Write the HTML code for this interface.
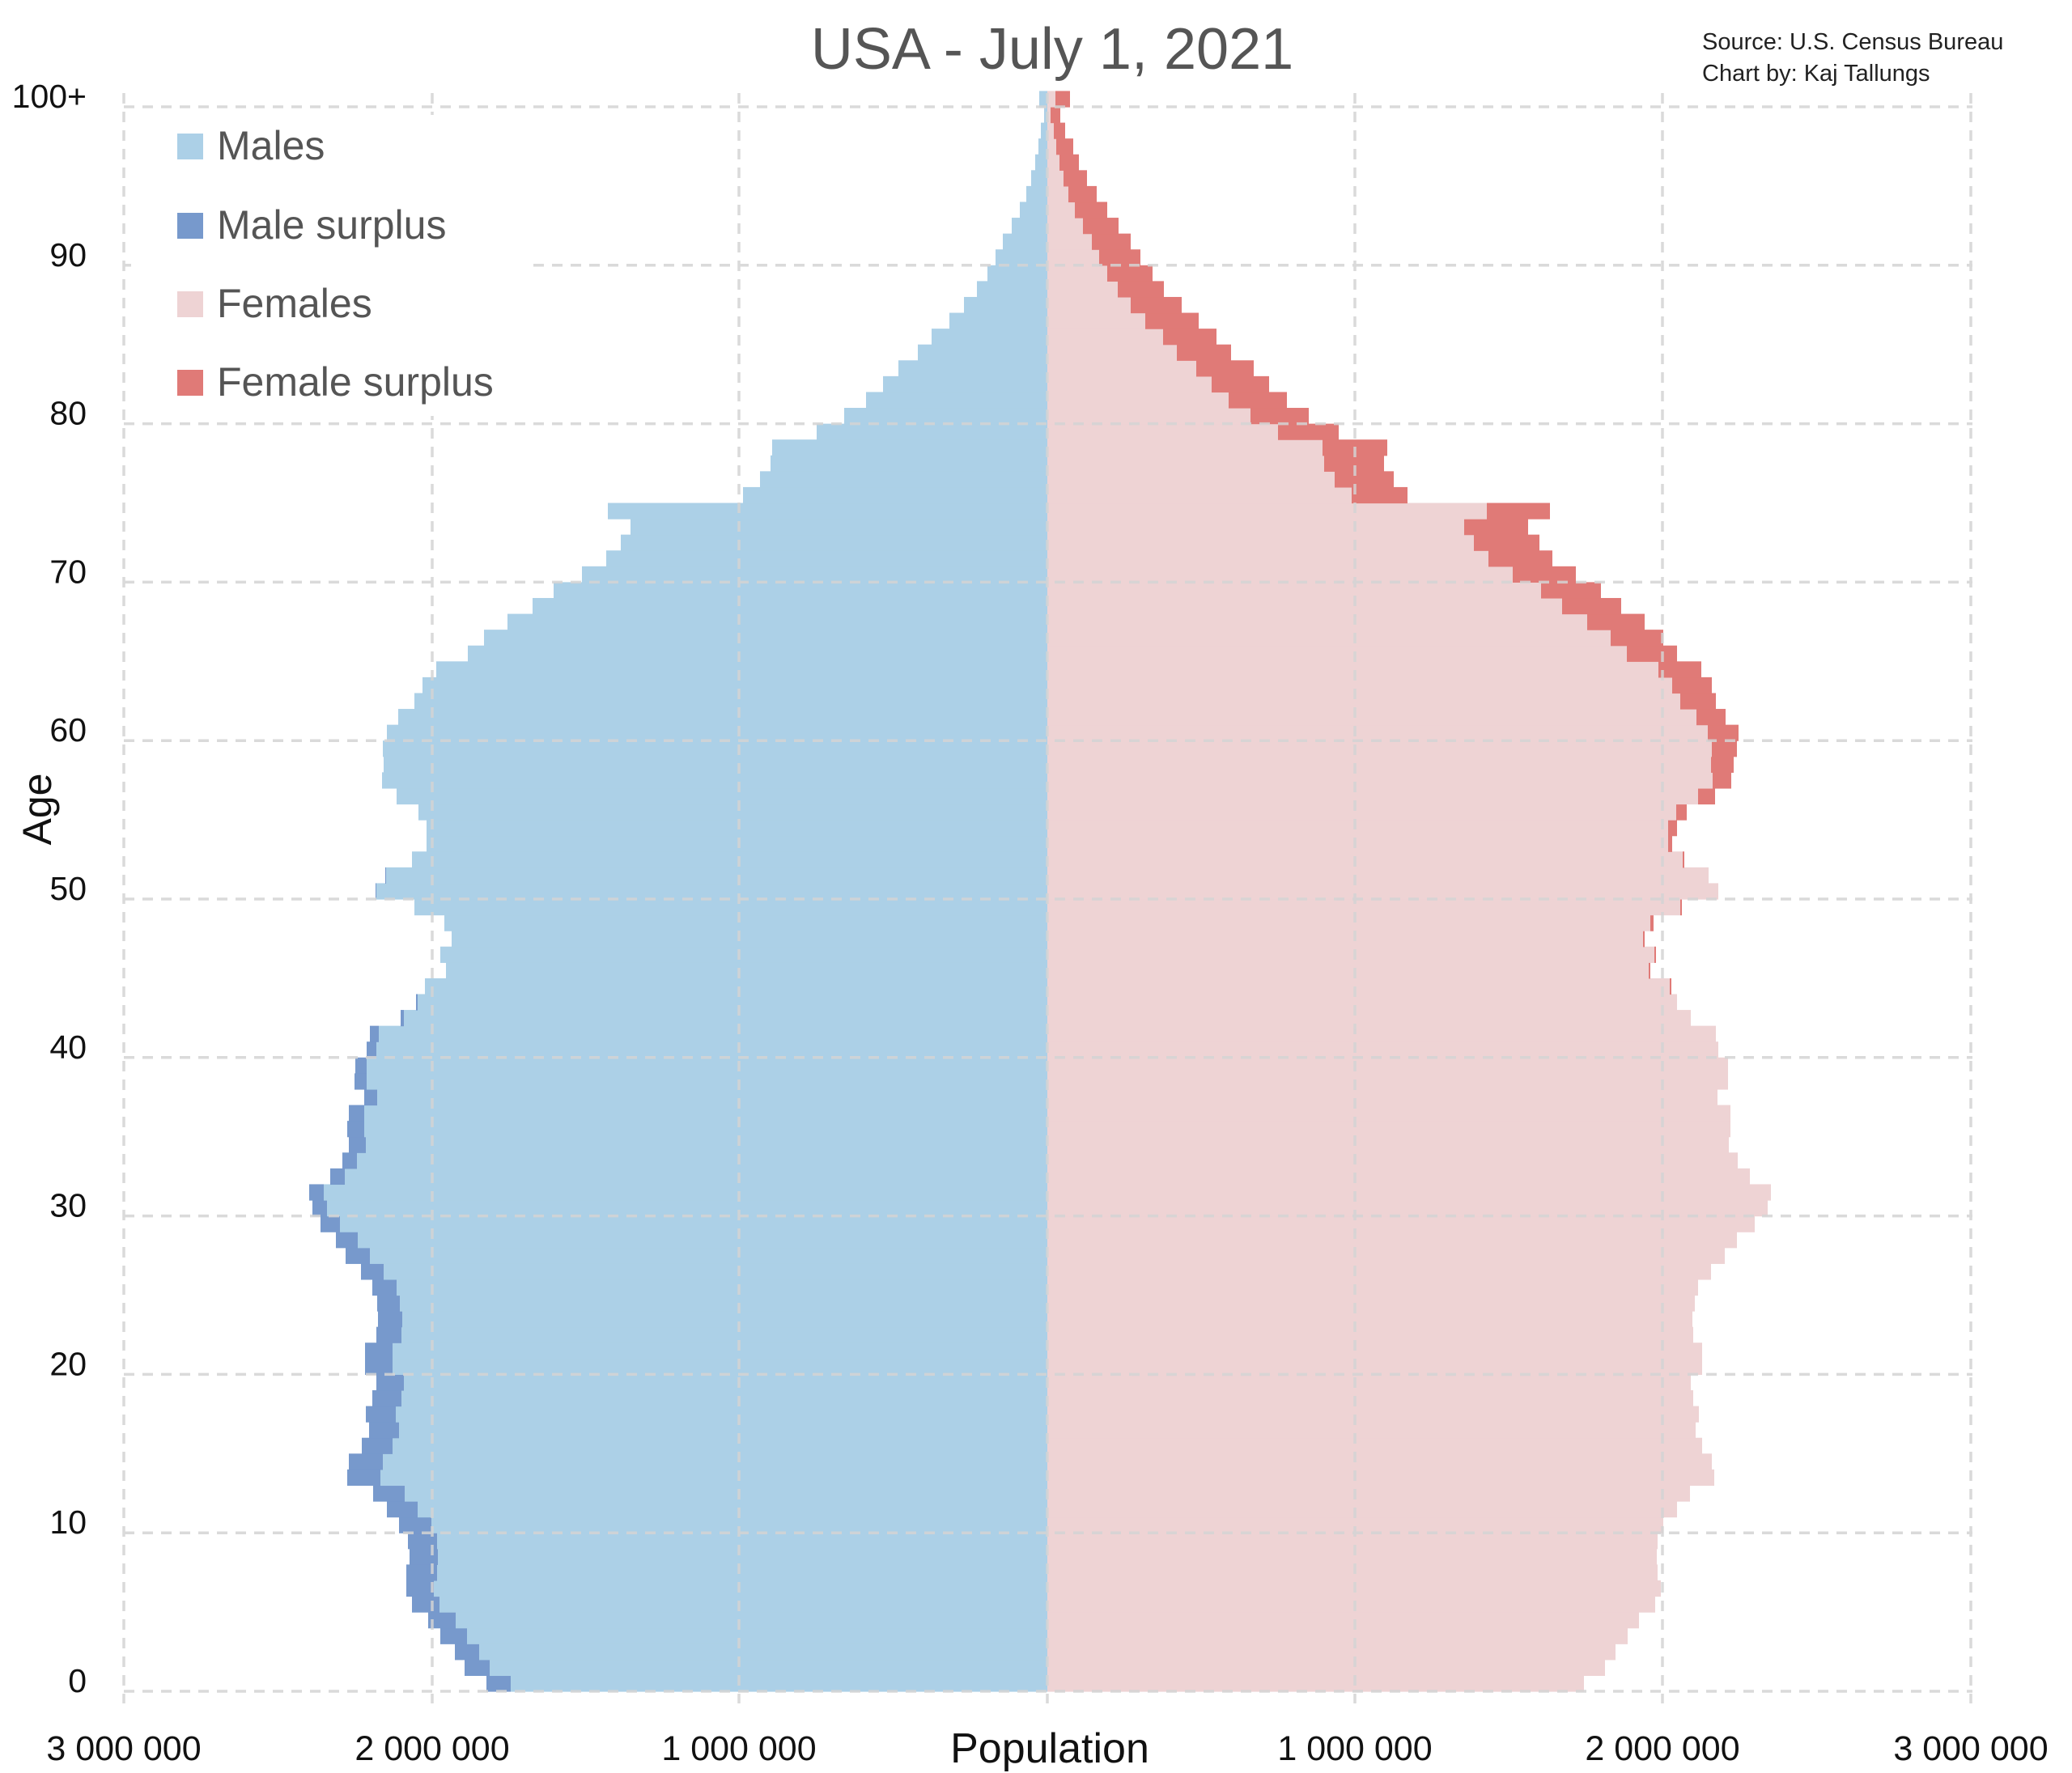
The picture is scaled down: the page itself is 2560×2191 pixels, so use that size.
<!DOCTYPE html>
<html><head><meta charset="utf-8">
<style>
html,body{margin:0;padding:0;background:#fff;}
svg{display:block;}
text{font-family:"Liberation Sans",sans-serif;}
</style></head>
<body>
<svg id="c" xmlns="http://www.w3.org/2000/svg" width="2560" height="2191" viewBox="0 0 2560 2191">
<rect width="2560" height="2191" fill="#fff"/>
<g id="bars"></g>
<g id="grid" stroke="#d4d4d4" stroke-width="3.5" stroke-dasharray="13,10" fill="none" opacity="0.85"></g>
<rect x="162" y="142" width="490" height="372" fill="#fff"/>
<rect x="219" y="165" width="32" height="32" fill="#acd0e7"/>
<text x="268" y="197" font-size="50" fill="#555">Males</text>
<rect x="219" y="263" width="32" height="32" fill="#7799cc"/>
<text x="268" y="295" font-size="50" fill="#555">Male surplus</text>
<rect x="219" y="360" width="32" height="32" fill="#eed3d4"/>
<text x="268" y="392" font-size="50" fill="#555">Females</text>
<rect x="219" y="457" width="32" height="32" fill="#e07a77"/>
<text x="268" y="489" font-size="50" fill="#555">Female surplus</text>
<text x="1300" y="85" font-size="72" fill="#555" text-anchor="middle">USA - July 1, 2021</text>
<text x="2103" y="61" font-size="29" fill="#222">Source: U.S. Census Bureau</text>
<text x="2103" y="100" font-size="29" fill="#222">Chart by: Kaj Tallungs</text>
<g id="ylab" font-size="41" fill="#111" text-anchor="end"></g>
<text transform="translate(63,1000) rotate(-90)" font-size="50" fill="#111" text-anchor="middle">Age</text>
<g font-size="43" fill="#111" text-anchor="middle">
<text x="153" y="2175">3 000 000</text>
<text x="534" y="2175">2 000 000</text>
<text x="913" y="2175">1 000 000</text>
<text x="1674" y="2175">1 000 000</text>
<text x="2054" y="2175">2 000 000</text>
<text x="2435" y="2175">3 000 000</text>
</g>
<text x="1297" y="2178" font-size="52" fill="#111" text-anchor="middle">Population</text>
</svg>
<script>
var m=[693,720,732,750,765,785,792,792,788,790,801,816,833,865,863,847,838,842,834,829,843,843,829,827,828,834,848,867,879,898,908,912,886,871,863,865,863,844,856,855,841,837,799,780,769,743,750,736,745,782,830,818,785,767,767,777,804,822,820,821,816,802,782,772,755,716,696,667,636,610,575,545,527,515,543,376,355,342,340,285,251,224,203,184,160,143,121,103,87,74,64,55,44,34,26,20,15,11,8,4,10];
var f=[663,689,702,717,731,751,758,754,753,754,761,778,794,824,821,809,801,805,798,795,809,809,798,797,800,804,820,837,852,874,890,894,868,853,842,844,844,828,841,841,829,826,795,778,771,745,752,738,749,784,829,817,787,772,778,790,825,845,848,852,854,838,826,821,808,778,761,738,709,684,653,624,608,594,621,445,428,416,420,360,323,296,274,255,227,209,187,166,144,130,115,103,88,74,61,49,39,32,22,16,28];
var C=1294,Y0=2090,H=19.58,s='';
for(var a=0;a<=100;a++){
 var y=Y0-H*(a+1), h=H+0.6, mn=Math.min(m[a],f[a]);
 s+='<rect x="'+(C-mn)+'" y="'+y+'" width="'+mn+'" height="'+h+'" fill="#acd0e7"/>';
 if(m[a]>mn) s+='<rect x="'+(C-m[a])+'" y="'+y+'" width="'+(m[a]-mn)+'" height="'+h+'" fill="#7799cc"/>';
 s+='<rect x="'+C+'" y="'+y+'" width="'+mn+'" height="'+h+'" fill="#eed3d4"/>';
 if(f[a]>mn) s+='<rect x="'+(C+mn)+'" y="'+y+'" width="'+(f[a]-mn)+'" height="'+h+'" fill="#e07a77"/>';
}
document.getElementById('bars').innerHTML=s;
var g='',xs=[153,534,913,1294,1674,2054,2435];
xs.forEach(function(x){g+='<line x1="'+x+'" y1="115" x2="'+x+'" y2="2105"/>';});
var yl='';
for(var k=0;k<=10;k++){var yy=Y0-k*10*H;g+='<line x1="153" y1="'+yy+'" x2="2437" y2="'+yy+'"/>';
 yl+='<text x="107" y="'+(yy+1)+'">'+(k==10?'100+':k*10)+'</text>';}
document.getElementById('grid').innerHTML=g;
document.getElementById('ylab').innerHTML=yl;
</script>
</body></html>
